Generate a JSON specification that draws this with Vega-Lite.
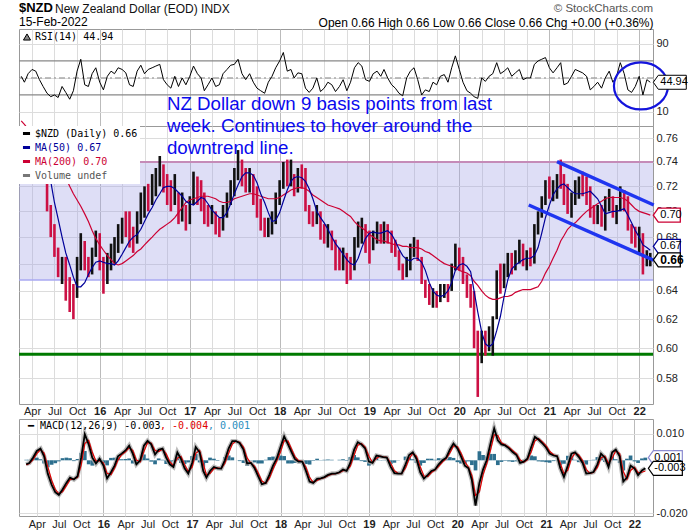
{
"$schema": "https://vega.github.io/schema/vega-lite/v6.json",
"background": "white",
"padding": {"left": 16, "top": 1, "right": 4, "bottom": 2},
"config": {
  "view": {"stroke": "#999"},
  "axis": {"labelFont": "Liberation Sans", "labelFontSize": 11, "labelColor": "#222", "ticks": false, "domain": false, "gridColor": "#dcdcdc"},
  "title": {"font": "Liberation Sans"}
},
"datasets": {
"px": [
{"d":"2015-02-16","hi":0.757,"lo":0.730,"up":1,"ma50":0.752,"ma200":0.775,"rsi":52,"macd":-0.0015,"sig":-0.0017,"hist":0.0002},
{"d":"2015-03-01","hi":0.760,"lo":0.722,"up":0,"ma50":0.748,"ma200":0.772,"rsi":45,"macd":-0.0010,"sig":-0.0012,"hist":0.0002},
{"d":"2015-03-16","hi":0.765,"lo":0.735,"up":1,"ma50":0.748,"ma200":0.768,"rsi":55,"macd":0.0010,"sig":0.0002,"hist":0.0008},
{"d":"2015-04-01","hi":0.768,"lo":0.745,"up":1,"ma50":0.750,"ma200":0.764,"rsi":60,"macd":0.0035,"sig":0.0025,"hist":0.0010},
{"d":"2015-04-16","hi":0.770,"lo":0.750,"up":0,"ma50":0.754,"ma200":0.761,"rsi":58,"macd":0.0044,"sig":0.0040,"hist":0.0004},
{"d":"2015-05-01","hi":0.765,"lo":0.740,"up":0,"ma50":0.756,"ma200":0.758,"rsi":48,"macd":0.0015,"sig":0.0027,"hist":-0.0012},
{"d":"2015-05-16","hi":0.745,"lo":0.725,"up":0,"ma50":0.752,"ma200":0.754,"rsi":40,"macd":-0.0050,"sig":-0.0024,"hist":-0.0026},
{"d":"2015-06-01","hi":0.730,"lo":0.700,"up":0,"ma50":0.738,"ma200":0.750,"rsi":32,"macd":-0.0092,"sig":-0.0075,"hist":-0.0017},
{"d":"2015-06-16","hi":0.705,"lo":0.680,"up":0,"ma50":0.724,"ma200":0.745,"rsi":28,"macd":-0.0120,"sig":-0.0109,"hist":-0.0011},
{"d":"2015-07-01","hi":0.690,"lo":0.665,"up":0,"ma50":0.707,"ma200":0.740,"rsi":30,"macd":-0.0130,"sig":-0.0126,"hist":-0.0004},
{"d":"2015-07-16","hi":0.672,"lo":0.650,"up":0,"ma50":0.694,"ma200":0.737,"rsi":27,"macd":-0.0110,"sig":-0.0118,"hist":0.0008},
{"d":"2015-08-01","hi":0.665,"lo":0.645,"up":1,"ma50":0.680,"ma200":0.734,"rsi":40,"macd":-0.0085,"sig":-0.0095,"hist":0.0010},
{"d":"2015-08-16","hi":0.665,"lo":0.633,"up":0,"ma50":0.668,"ma200":0.727,"rsi":33,"macd":-0.0065,"sig":-0.0073,"hist":0.0008},
{"d":"2015-09-01","hi":0.650,"lo":0.625,"up":0,"ma50":0.659,"ma200":0.720,"rsi":25,"macd":-0.0072,"sig":-0.0069,"hist":-0.0003},
{"d":"2015-09-16","hi":0.645,"lo":0.620,"up":0,"ma50":0.650,"ma200":0.714,"rsi":35,"macd":-0.0060,"sig":-0.0065,"hist":0.0005},
{"d":"2015-10-01","hi":0.665,"lo":0.635,"up":1,"ma50":0.643,"ma200":0.709,"rsi":58,"macd":0.0010,"sig":-0.0018,"hist":0.0028},
{"d":"2015-10-16","hi":0.683,"lo":0.655,"up":1,"ma50":0.643,"ma200":0.704,"rsi":72,"macd":0.0098,"sig":0.0063,"hist":0.0035},
{"d":"2015-11-01","hi":0.677,"lo":0.655,"up":0,"ma50":0.646,"ma200":0.698,"rsi":42,"macd":0.0060,"sig":0.0075,"hist":-0.0015},
{"d":"2015-11-16","hi":0.665,"lo":0.650,"up":0,"ma50":0.652,"ma200":0.692,"rsi":40,"macd":0.0010,"sig":0.0030,"hist":-0.0020},
{"d":"2015-12-01","hi":0.672,"lo":0.652,"up":1,"ma50":0.657,"ma200":0.685,"rsi":55,"macd":-0.0012,"sig":-0.0003,"hist":-0.0009},
{"d":"2015-12-16","hi":0.685,"lo":0.665,"up":1,"ma50":0.661,"ma200":0.679,"rsi":62,"macd":0.0006,"sig":-0.0001,"hist":0.0007},
{"d":"2016-01-01","hi":0.683,"lo":0.655,"up":0,"ma50":0.662,"ma200":0.674,"rsi":45,"macd":-0.0020,"sig":-0.0010,"hist":-0.0010},
{"d":"2016-01-16","hi":0.665,"lo":0.638,"up":0,"ma50":0.661,"ma200":0.670,"rsi":36,"macd":-0.0068,"sig":-0.0049,"hist":-0.0019},
{"d":"2016-02-01","hi":0.668,"lo":0.645,"up":1,"ma50":0.660,"ma200":0.666,"rsi":52,"macd":-0.0045,"sig":-0.0054,"hist":0.0009},
{"d":"2016-02-16","hi":0.675,"lo":0.655,"up":1,"ma50":0.660,"ma200":0.663,"rsi":58,"macd":-0.0020,"sig":-0.0030,"hist":0.0010},
{"d":"2016-03-01","hi":0.680,"lo":0.660,"up":1,"ma50":0.659,"ma200":0.660,"rsi":55,"macd":0.0015,"sig":0.0001,"hist":0.0014},
{"d":"2016-03-16","hi":0.690,"lo":0.668,"up":1,"ma50":0.662,"ma200":0.659,"rsi":62,"macd":0.0025,"sig":0.0021,"hist":0.0004},
{"d":"2016-04-01","hi":0.695,"lo":0.675,"up":1,"ma50":0.667,"ma200":0.660,"rsi":60,"macd":0.0037,"sig":0.0032,"hist":0.0005},
{"d":"2016-04-16","hi":0.700,"lo":0.680,"up":0,"ma50":0.672,"ma200":0.662,"rsi":56,"macd":0.0055,"sig":0.0048,"hist":0.0007},
{"d":"2016-05-01","hi":0.700,"lo":0.672,"up":0,"ma50":0.677,"ma200":0.664,"rsi":42,"macd":0.0025,"sig":0.0037,"hist":-0.0012},
{"d":"2016-05-16","hi":0.688,"lo":0.668,"up":0,"ma50":0.680,"ma200":0.666,"rsi":40,"macd":-0.0015,"sig":0.0001,"hist":-0.0016},
{"d":"2016-06-01","hi":0.700,"lo":0.675,"up":1,"ma50":0.682,"ma200":0.669,"rsi":58,"macd":0.0000,"sig":-0.0006,"hist":0.0006},
{"d":"2016-06-16","hi":0.715,"lo":0.690,"up":1,"ma50":0.686,"ma200":0.671,"rsi":65,"macd":0.0055,"sig":0.0033,"hist":0.0022},
{"d":"2016-07-01","hi":0.720,"lo":0.695,"up":1,"ma50":0.692,"ma200":0.674,"rsi":55,"macd":0.0073,"sig":0.0066,"hist":0.0007},
{"d":"2016-07-16","hi":0.722,"lo":0.700,"up":0,"ma50":0.698,"ma200":0.677,"rsi":60,"macd":0.0060,"sig":0.0065,"hist":-0.0005},
{"d":"2016-08-01","hi":0.730,"lo":0.705,"up":1,"ma50":0.703,"ma200":0.680,"rsi":62,"macd":0.0022,"sig":0.0037,"hist":-0.0015},
{"d":"2016-08-16","hi":0.735,"lo":0.712,"up":1,"ma50":0.709,"ma200":0.683,"rsi":64,"macd":0.0040,"sig":0.0033,"hist":0.0007},
{"d":"2016-09-01","hi":0.745,"lo":0.720,"up":1,"ma50":0.714,"ma200":0.686,"rsi":66,"macd":0.0044,"sig":0.0042,"hist":0.0002},
{"d":"2016-09-16","hi":0.738,"lo":0.715,"up":0,"ma50":0.719,"ma200":0.688,"rsi":48,"macd":0.0010,"sig":0.0024,"hist":-0.0014},
{"d":"2016-10-01","hi":0.730,"lo":0.705,"up":0,"ma50":0.720,"ma200":0.690,"rsi":42,"macd":-0.0015,"sig":-0.0005,"hist":-0.0010},
{"d":"2016-10-16","hi":0.725,"lo":0.700,"up":0,"ma50":0.720,"ma200":0.692,"rsi":38,"macd":-0.0025,"sig":-0.0021,"hist":-0.0004},
{"d":"2016-11-01","hi":0.730,"lo":0.705,"up":1,"ma50":0.718,"ma200":0.695,"rsi":52,"macd":0.0030,"sig":0.0008,"hist":0.0022},
{"d":"2016-11-16","hi":0.715,"lo":0.690,"up":0,"ma50":0.715,"ma200":0.699,"rsi":40,"macd":0.0005,"sig":0.0015,"hist":-0.0010},
{"d":"2016-12-01","hi":0.715,"lo":0.692,"up":1,"ma50":0.712,"ma200":0.703,"rsi":50,"macd":-0.0030,"sig":-0.0016,"hist":-0.0014},
{"d":"2016-12-16","hi":0.705,"lo":0.685,"up":0,"ma50":0.708,"ma200":0.707,"rsi":42,"macd":-0.0050,"sig":-0.0042,"hist":-0.0008},
{"d":"2017-01-01","hi":0.712,"lo":0.690,"up":1,"ma50":0.706,"ma200":0.709,"rsi":52,"macd":-0.0010,"sig":-0.0026,"hist":0.0016},
{"d":"2017-01-16","hi":0.732,"lo":0.705,"up":1,"ma50":0.705,"ma200":0.710,"rsi":64,"macd":0.0050,"sig":0.0026,"hist":0.0024},
{"d":"2017-02-01","hi":0.728,"lo":0.705,"up":0,"ma50":0.708,"ma200":0.711,"rsi":55,"macd":0.0030,"sig":0.0038,"hist":-0.0008},
{"d":"2017-02-16","hi":0.725,"lo":0.700,"up":0,"ma50":0.711,"ma200":0.712,"rsi":50,"macd":-0.0040,"sig":-0.0012,"hist":-0.0028},
{"d":"2017-03-01","hi":0.715,"lo":0.690,"up":0,"ma50":0.710,"ma200":0.712,"rsi":35,"macd":-0.0065,"sig":-0.0055,"hist":-0.0010},
{"d":"2017-03-16","hi":0.705,"lo":0.688,"up":0,"ma50":0.706,"ma200":0.712,"rsi":42,"macd":-0.0040,"sig":-0.0050,"hist":0.0010},
{"d":"2017-04-01","hi":0.705,"lo":0.690,"up":1,"ma50":0.701,"ma200":0.711,"rsi":50,"macd":-0.0025,"sig":-0.0031,"hist":0.0006},
{"d":"2017-04-16","hi":0.700,"lo":0.682,"up":0,"ma50":0.698,"ma200":0.710,"rsi":40,"macd":-0.0030,"sig":-0.0028,"hist":-0.0002},
{"d":"2017-05-01","hi":0.695,"lo":0.680,"up":0,"ma50":0.695,"ma200":0.708,"rsi":42,"macd":-0.0031,"sig":-0.0031,"hist":0.0000},
{"d":"2017-05-16","hi":0.705,"lo":0.685,"up":1,"ma50":0.695,"ma200":0.707,"rsi":55,"macd":0.0000,"sig":-0.0012,"hist":0.0012},
{"d":"2017-06-01","hi":0.715,"lo":0.695,"up":1,"ma50":0.699,"ma200":0.707,"rsi":60,"macd":0.0045,"sig":0.0027,"hist":0.0018},
{"d":"2017-06-16","hi":0.725,"lo":0.705,"up":1,"ma50":0.706,"ma200":0.708,"rsi":65,"macd":0.0072,"sig":0.0061,"hist":0.0011},
{"d":"2017-07-01","hi":0.735,"lo":0.712,"up":1,"ma50":0.714,"ma200":0.710,"rsi":66,"macd":0.0072,"sig":0.0072,"hist":0.0000},
{"d":"2017-07-16","hi":0.750,"lo":0.725,"up":1,"ma50":0.721,"ma200":0.711,"rsi":72,"macd":0.0065,"sig":0.0068,"hist":-0.0003},
{"d":"2017-08-01","hi":0.742,"lo":0.720,"up":0,"ma50":0.728,"ma200":0.712,"rsi":55,"macd":0.0040,"sig":0.0050,"hist":-0.0010},
{"d":"2017-08-16","hi":0.735,"lo":0.715,"up":0,"ma50":0.731,"ma200":0.713,"rsi":48,"macd":-0.0012,"sig":0.0009,"hist":-0.0021},
{"d":"2017-09-01","hi":0.735,"lo":0.715,"up":1,"ma50":0.731,"ma200":0.714,"rsi":55,"macd":-0.0010,"sig":-0.0011,"hist":0.0001},
{"d":"2017-09-16","hi":0.730,"lo":0.705,"up":0,"ma50":0.729,"ma200":0.714,"rsi":45,"macd":-0.0030,"sig":-0.0022,"hist":-0.0008},
{"d":"2017-10-01","hi":0.720,"lo":0.695,"up":0,"ma50":0.723,"ma200":0.713,"rsi":38,"macd":-0.0060,"sig":-0.0048,"hist":-0.0012},
{"d":"2017-10-16","hi":0.710,"lo":0.685,"up":0,"ma50":0.714,"ma200":0.712,"rsi":35,"macd":-0.0090,"sig":-0.0078,"hist":-0.0012},
{"d":"2017-11-01","hi":0.695,"lo":0.680,"up":0,"ma50":0.707,"ma200":0.711,"rsi":32,"macd":-0.0085,"sig":-0.0087,"hist":0.0002},
{"d":"2017-11-16","hi":0.695,"lo":0.680,"up":1,"ma50":0.699,"ma200":0.710,"rsi":45,"macd":-0.0055,"sig":-0.0067,"hist":0.0012},
{"d":"2017-12-01","hi":0.700,"lo":0.682,"up":1,"ma50":0.692,"ma200":0.710,"rsi":52,"macd":-0.0020,"sig":-0.0034,"hist":0.0014},
{"d":"2017-12-16","hi":0.715,"lo":0.690,"up":1,"ma50":0.693,"ma200":0.710,"rsi":62,"macd":0.0006,"sig":-0.0004,"hist":0.0010},
{"d":"2018-01-01","hi":0.725,"lo":0.705,"up":1,"ma50":0.699,"ma200":0.711,"rsi":70,"macd":0.0050,"sig":0.0032,"hist":0.0018},
{"d":"2018-01-16","hi":0.740,"lo":0.718,"up":1,"ma50":0.708,"ma200":0.713,"rsi":80,"macd":0.0090,"sig":0.0074,"hist":0.0016},
{"d":"2018-02-01","hi":0.742,"lo":0.720,"up":0,"ma50":0.717,"ma200":0.715,"rsi":58,"macd":0.0060,"sig":0.0072,"hist":-0.0012},
{"d":"2018-02-16","hi":0.742,"lo":0.720,"up":1,"ma50":0.724,"ma200":0.717,"rsi":60,"macd":0.0030,"sig":0.0042,"hist":-0.0012},
{"d":"2018-03-01","hi":0.730,"lo":0.712,"up":0,"ma50":0.727,"ma200":0.718,"rsi":50,"macd":0.0005,"sig":0.0015,"hist":-0.0010},
{"d":"2018-03-16","hi":0.735,"lo":0.715,"up":1,"ma50":0.728,"ma200":0.719,"rsi":56,"macd":-0.0005,"sig":-0.0001,"hist":-0.0004},
{"d":"2018-04-01","hi":0.738,"lo":0.718,"up":0,"ma50":0.727,"ma200":0.719,"rsi":55,"macd":-0.0005,"sig":-0.0005,"hist":0.0000},
{"d":"2018-04-16","hi":0.735,"lo":0.700,"up":0,"ma50":0.724,"ma200":0.718,"rsi":38,"macd":-0.0040,"sig":-0.0026,"hist":-0.0014},
{"d":"2018-05-01","hi":0.705,"lo":0.690,"up":0,"ma50":0.718,"ma200":0.716,"rsi":33,"macd":-0.0080,"sig":-0.0064,"hist":-0.0016},
{"d":"2018-05-16","hi":0.700,"lo":0.688,"up":0,"ma50":0.710,"ma200":0.713,"rsi":38,"macd":-0.0085,"sig":-0.0083,"hist":-0.0002},
{"d":"2018-06-01","hi":0.705,"lo":0.690,"up":1,"ma50":0.700,"ma200":0.711,"rsi":50,"macd":-0.0070,"sig":-0.0076,"hist":0.0006},
{"d":"2018-06-16","hi":0.700,"lo":0.678,"up":0,"ma50":0.695,"ma200":0.709,"rsi":34,"macd":-0.0068,"sig":-0.0069,"hist":0.0001},
{"d":"2018-07-01","hi":0.690,"lo":0.675,"up":0,"ma50":0.691,"ma200":0.707,"rsi":38,"macd":-0.0063,"sig":-0.0065,"hist":0.0002},
{"d":"2018-07-16","hi":0.690,"lo":0.672,"up":1,"ma50":0.686,"ma200":0.705,"rsi":45,"macd":-0.0055,"sig":-0.0058,"hist":0.0003},
{"d":"2018-08-01","hi":0.685,"lo":0.670,"up":0,"ma50":0.680,"ma200":0.704,"rsi":42,"macd":-0.0050,"sig":-0.0052,"hist":0.0002},
{"d":"2018-08-16","hi":0.678,"lo":0.655,"up":0,"ma50":0.675,"ma200":0.703,"rsi":34,"macd":-0.0050,"sig":-0.0050,"hist":0.0000},
{"d":"2018-09-01","hi":0.672,"lo":0.655,"up":0,"ma50":0.671,"ma200":0.702,"rsi":40,"macd":-0.0045,"sig":-0.0047,"hist":0.0002},
{"d":"2018-09-16","hi":0.672,"lo":0.655,"up":1,"ma50":0.667,"ma200":0.700,"rsi":48,"macd":-0.0035,"sig":-0.0039,"hist":0.0004},
{"d":"2018-10-01","hi":0.668,"lo":0.645,"up":0,"ma50":0.663,"ma200":0.698,"rsi":35,"macd":-0.0040,"sig":-0.0038,"hist":-0.0002},
{"d":"2018-10-16","hi":0.665,"lo":0.648,"up":0,"ma50":0.660,"ma200":0.696,"rsi":45,"macd":-0.0010,"sig":-0.0022,"hist":0.0012},
{"d":"2018-11-01","hi":0.680,"lo":0.655,"up":1,"ma50":0.659,"ma200":0.692,"rsi":62,"macd":0.0040,"sig":0.0020,"hist":0.0020},
{"d":"2018-11-16","hi":0.692,"lo":0.672,"up":1,"ma50":0.664,"ma200":0.689,"rsi":68,"macd":0.0068,"sig":0.0057,"hist":0.0011},
{"d":"2018-12-01","hi":0.695,"lo":0.675,"up":1,"ma50":0.672,"ma200":0.687,"rsi":64,"macd":0.0060,"sig":0.0063,"hist":-0.0003},
{"d":"2018-12-16","hi":0.690,"lo":0.668,"up":0,"ma50":0.679,"ma200":0.685,"rsi":48,"macd":0.0045,"sig":0.0051,"hist":-0.0006},
{"d":"2019-01-01","hi":0.685,"lo":0.660,"up":0,"ma50":0.683,"ma200":0.682,"rsi":46,"macd":-0.0005,"sig":0.0015,"hist":-0.0020},
{"d":"2019-01-16","hi":0.685,"lo":0.670,"up":1,"ma50":0.684,"ma200":0.680,"rsi":55,"macd":-0.0010,"sig":-0.0008,"hist":-0.0002},
{"d":"2019-02-01","hi":0.692,"lo":0.675,"up":1,"ma50":0.683,"ma200":0.678,"rsi":58,"macd":0.0018,"sig":0.0007,"hist":0.0011},
{"d":"2019-02-16","hi":0.690,"lo":0.675,"up":0,"ma50":0.683,"ma200":0.677,"rsi":52,"macd":0.0015,"sig":0.0016,"hist":-0.0001},
{"d":"2019-03-01","hi":0.692,"lo":0.675,"up":1,"ma50":0.684,"ma200":0.677,"rsi":60,"macd":0.0012,"sig":0.0013,"hist":-0.0001},
{"d":"2019-03-16","hi":0.690,"lo":0.675,"up":0,"ma50":0.685,"ma200":0.676,"rsi":50,"macd":0.0010,"sig":0.0011,"hist":-0.0001},
{"d":"2019-04-01","hi":0.685,"lo":0.668,"up":0,"ma50":0.682,"ma200":0.675,"rsi":42,"macd":-0.0025,"sig":-0.0011,"hist":-0.0014},
{"d":"2019-04-16","hi":0.678,"lo":0.665,"up":0,"ma50":0.677,"ma200":0.674,"rsi":38,"macd":-0.0048,"sig":-0.0039,"hist":-0.0009},
{"d":"2019-05-01","hi":0.670,"lo":0.655,"up":0,"ma50":0.671,"ma200":0.674,"rsi":32,"macd":-0.0050,"sig":-0.0049,"hist":-0.0001},
{"d":"2019-05-16","hi":0.660,"lo":0.648,"up":0,"ma50":0.666,"ma200":0.673,"rsi":29,"macd":-0.0050,"sig":-0.0050,"hist":0.0000},
{"d":"2019-06-01","hi":0.665,"lo":0.650,"up":1,"ma50":0.663,"ma200":0.673,"rsi":50,"macd":-0.0015,"sig":-0.0029,"hist":0.0014},
{"d":"2019-06-16","hi":0.675,"lo":0.655,"up":1,"ma50":0.662,"ma200":0.672,"rsi":58,"macd":0.0020,"sig":0.0006,"hist":0.0014},
{"d":"2019-07-01","hi":0.680,"lo":0.665,"up":1,"ma50":0.664,"ma200":0.672,"rsi":62,"macd":0.0030,"sig":0.0026,"hist":0.0004},
{"d":"2019-07-16","hi":0.678,"lo":0.662,"up":0,"ma50":0.664,"ma200":0.672,"rsi":48,"macd":0.0006,"sig":0.0016,"hist":-0.0010},
{"d":"2019-08-01","hi":0.665,"lo":0.645,"up":0,"ma50":0.661,"ma200":0.671,"rsi":30,"macd":-0.0045,"sig":-0.0025,"hist":-0.0020},
{"d":"2019-08-16","hi":0.648,"lo":0.635,"up":0,"ma50":0.655,"ma200":0.669,"rsi":36,"macd":-0.0069,"sig":-0.0059,"hist":-0.0010},
{"d":"2019-09-01","hi":0.645,"lo":0.630,"up":0,"ma50":0.646,"ma200":0.668,"rsi":34,"macd":-0.0055,"sig":-0.0061,"hist":0.0006},
{"d":"2019-09-16","hi":0.642,"lo":0.628,"up":1,"ma50":0.640,"ma200":0.666,"rsi":45,"macd":-0.0040,"sig":-0.0046,"hist":0.0006},
{"d":"2019-10-01","hi":0.640,"lo":0.628,"up":0,"ma50":0.637,"ma200":0.664,"rsi":42,"macd":-0.0035,"sig":-0.0037,"hist":0.0002},
{"d":"2019-10-16","hi":0.645,"lo":0.632,"up":1,"ma50":0.636,"ma200":0.662,"rsi":52,"macd":-0.0015,"sig":-0.0023,"hist":0.0008},
{"d":"2019-11-01","hi":0.645,"lo":0.635,"up":1,"ma50":0.637,"ma200":0.660,"rsi":54,"macd":0.0000,"sig":-0.0006,"hist":0.0006},
{"d":"2019-11-16","hi":0.645,"lo":0.632,"up":0,"ma50":0.640,"ma200":0.659,"rsi":45,"macd":0.0010,"sig":0.0006,"hist":0.0004},
{"d":"2019-12-01","hi":0.660,"lo":0.640,"up":1,"ma50":0.646,"ma200":0.658,"rsi":62,"macd":0.0040,"sig":0.0028,"hist":0.0012},
{"d":"2019-12-16","hi":0.675,"lo":0.655,"up":1,"ma50":0.655,"ma200":0.657,"rsi":76,"macd":0.0063,"sig":0.0054,"hist":0.0009},
{"d":"2020-01-01","hi":0.672,"lo":0.655,"up":0,"ma50":0.659,"ma200":0.655,"rsi":60,"macd":0.0045,"sig":0.0052,"hist":-0.0007},
{"d":"2020-01-16","hi":0.665,"lo":0.645,"up":0,"ma50":0.660,"ma200":0.654,"rsi":45,"macd":0.0015,"sig":0.0027,"hist":-0.0012},
{"d":"2020-02-01","hi":0.652,"lo":0.635,"up":0,"ma50":0.658,"ma200":0.653,"rsi":35,"macd":-0.0020,"sig":-0.0006,"hist":-0.0014},
{"d":"2020-02-16","hi":0.645,"lo":0.628,"up":0,"ma50":0.654,"ma200":0.651,"rsi":32,"macd":-0.0030,"sig":-0.0026,"hist":-0.0004},
{"d":"2020-03-01","hi":0.640,"lo":0.600,"up":0,"ma50":0.640,"ma200":0.647,"rsi":28,"macd":-0.0075,"sig":-0.0057,"hist":-0.0018},
{"d":"2020-03-16","hi":0.612,"lo":0.568,"up":0,"ma50":0.625,"ma200":0.644,"rsi":26,"macd":-0.0170,"sig":-0.0132,"hist":-0.0038},
{"d":"2020-04-01","hi":0.612,"lo":0.590,"up":1,"ma50":0.611,"ma200":0.640,"rsi":50,"macd":-0.0085,"sig":-0.0119,"hist":0.0034},
{"d":"2020-04-16","hi":0.612,"lo":0.595,"up":0,"ma50":0.603,"ma200":0.637,"rsi":46,"macd":-0.0035,"sig":-0.0055,"hist":0.0020},
{"d":"2020-05-01","hi":0.615,"lo":0.598,"up":1,"ma50":0.601,"ma200":0.635,"rsi":52,"macd":0.0000,"sig":-0.0014,"hist":0.0014},
{"d":"2020-05-16","hi":0.622,"lo":0.595,"up":1,"ma50":0.603,"ma200":0.634,"rsi":55,"macd":0.0060,"sig":0.0036,"hist":0.0024},
{"d":"2020-06-01","hi":0.655,"lo":0.620,"up":1,"ma50":0.612,"ma200":0.634,"rsi":68,"macd":0.0120,"sig":0.0096,"hist":0.0024},
{"d":"2020-06-16","hi":0.660,"lo":0.638,"up":0,"ma50":0.622,"ma200":0.635,"rsi":55,"macd":0.0075,"sig":0.0093,"hist":-0.0018},
{"d":"2020-07-01","hi":0.660,"lo":0.642,"up":1,"ma50":0.636,"ma200":0.636,"rsi":58,"macd":0.0060,"sig":0.0066,"hist":-0.0006},
{"d":"2020-07-16","hi":0.668,"lo":0.650,"up":1,"ma50":0.648,"ma200":0.636,"rsi":62,"macd":0.0056,"sig":0.0058,"hist":-0.0002},
{"d":"2020-08-01","hi":0.668,"lo":0.652,"up":0,"ma50":0.656,"ma200":0.637,"rsi":52,"macd":0.0045,"sig":0.0049,"hist":-0.0004},
{"d":"2020-08-16","hi":0.670,"lo":0.655,"up":1,"ma50":0.659,"ma200":0.639,"rsi":56,"macd":0.0031,"sig":0.0037,"hist":-0.0006},
{"d":"2020-09-01","hi":0.678,"lo":0.660,"up":1,"ma50":0.661,"ma200":0.640,"rsi":60,"macd":0.0020,"sig":0.0024,"hist":-0.0004},
{"d":"2020-09-16","hi":0.675,"lo":0.658,"up":0,"ma50":0.663,"ma200":0.641,"rsi":48,"macd":-0.0010,"sig":0.0002,"hist":-0.0012},
{"d":"2020-10-01","hi":0.670,"lo":0.655,"up":1,"ma50":0.664,"ma200":0.641,"rsi":50,"macd":-0.0005,"sig":-0.0007,"hist":0.0002},
{"d":"2020-10-16","hi":0.672,"lo":0.658,"up":0,"ma50":0.664,"ma200":0.641,"rsi":50,"macd":0.0006,"sig":0.0002,"hist":0.0004},
{"d":"2020-11-01","hi":0.690,"lo":0.660,"up":1,"ma50":0.666,"ma200":0.642,"rsi":66,"macd":0.0050,"sig":0.0032,"hist":0.0018},
{"d":"2020-11-16","hi":0.700,"lo":0.682,"up":1,"ma50":0.672,"ma200":0.643,"rsi":70,"macd":0.0088,"sig":0.0073,"hist":0.0015},
{"d":"2020-12-01","hi":0.712,"lo":0.695,"up":1,"ma50":0.683,"ma200":0.647,"rsi":72,"macd":0.0078,"sig":0.0082,"hist":-0.0004},
{"d":"2020-12-16","hi":0.725,"lo":0.705,"up":1,"ma50":0.695,"ma200":0.653,"rsi":74,"macd":0.0065,"sig":0.0070,"hist":-0.0005},
{"d":"2021-01-01","hi":0.728,"lo":0.710,"up":0,"ma50":0.705,"ma200":0.658,"rsi":62,"macd":0.0048,"sig":0.0055,"hist":-0.0007},
{"d":"2021-01-16","hi":0.725,"lo":0.708,"up":1,"ma50":0.713,"ma200":0.664,"rsi":56,"macd":0.0025,"sig":0.0034,"hist":-0.0009},
{"d":"2021-02-01","hi":0.730,"lo":0.710,"up":1,"ma50":0.718,"ma200":0.670,"rsi":62,"macd":0.0018,"sig":0.0021,"hist":-0.0003},
{"d":"2021-02-16","hi":0.742,"lo":0.718,"up":0,"ma50":0.721,"ma200":0.677,"rsi":68,"macd":0.0015,"sig":0.0016,"hist":-0.0001},
{"d":"2021-03-01","hi":0.730,"lo":0.705,"up":0,"ma50":0.722,"ma200":0.681,"rsi":42,"macd":-0.0030,"sig":-0.0012,"hist":-0.0018},
{"d":"2021-03-16","hi":0.722,"lo":0.698,"up":0,"ma50":0.719,"ma200":0.686,"rsi":44,"macd":-0.0063,"sig":-0.0050,"hist":-0.0013},
{"d":"2021-04-01","hi":0.715,"lo":0.695,"up":1,"ma50":0.716,"ma200":0.689,"rsi":52,"macd":-0.0020,"sig":-0.0037,"hist":0.0017},
{"d":"2021-04-16","hi":0.725,"lo":0.705,"up":1,"ma50":0.714,"ma200":0.691,"rsi":60,"macd":0.0025,"sig":0.0007,"hist":0.0018},
{"d":"2021-05-01","hi":0.728,"lo":0.710,"up":1,"ma50":0.714,"ma200":0.694,"rsi":58,"macd":0.0030,"sig":0.0028,"hist":0.0002},
{"d":"2021-05-16","hi":0.732,"lo":0.712,"up":0,"ma50":0.714,"ma200":0.697,"rsi":56,"macd":0.0013,"sig":0.0020,"hist":-0.0007},
{"d":"2021-06-01","hi":0.728,"lo":0.705,"up":0,"ma50":0.715,"ma200":0.700,"rsi":52,"macd":-0.0010,"sig":-0.0001,"hist":-0.0009},
{"d":"2021-06-16","hi":0.720,"lo":0.695,"up":0,"ma50":0.716,"ma200":0.702,"rsi":36,"macd":-0.0050,"sig":-0.0034,"hist":-0.0016},
{"d":"2021-07-01","hi":0.705,"lo":0.690,"up":0,"ma50":0.713,"ma200":0.704,"rsi":40,"macd":-0.0048,"sig":-0.0049,"hist":0.0001},
{"d":"2021-07-16","hi":0.705,"lo":0.690,"up":1,"ma50":0.710,"ma200":0.706,"rsi":45,"macd":-0.0044,"sig":-0.0046,"hist":0.0002},
{"d":"2021-08-01","hi":0.705,"lo":0.688,"up":0,"ma50":0.704,"ma200":0.708,"rsi":38,"macd":-0.0015,"sig":-0.0027,"hist":0.0012},
{"d":"2021-08-16","hi":0.712,"lo":0.685,"up":1,"ma50":0.698,"ma200":0.710,"rsi":50,"macd":0.0025,"sig":0.0009,"hist":0.0016},
{"d":"2021-09-01","hi":0.718,"lo":0.700,"up":1,"ma50":0.699,"ma200":0.711,"rsi":58,"macd":0.0010,"sig":0.0016,"hist":-0.0006},
{"d":"2021-09-16","hi":0.712,"lo":0.695,"up":0,"ma50":0.700,"ma200":0.711,"rsi":45,"macd":-0.0025,"sig":-0.0011,"hist":-0.0014},
{"d":"2021-10-01","hi":0.705,"lo":0.690,"up":1,"ma50":0.700,"ma200":0.711,"rsi":52,"macd":0.0030,"sig":0.0008,"hist":0.0022},
{"d":"2021-10-16","hi":0.720,"lo":0.700,"up":1,"ma50":0.701,"ma200":0.711,"rsi":68,"macd":0.0040,"sig":0.0036,"hist":0.0004},
{"d":"2021-11-01","hi":0.717,"lo":0.700,"up":0,"ma50":0.702,"ma200":0.710,"rsi":55,"macd":0.0015,"sig":0.0025,"hist":-0.0010},
{"d":"2021-11-16","hi":0.712,"lo":0.685,"up":0,"ma50":0.697,"ma200":0.708,"rsi":36,"macd":-0.0080,"sig":-0.0042,"hist":-0.0038},
{"d":"2021-12-01","hi":0.690,"lo":0.675,"up":0,"ma50":0.691,"ma200":0.705,"rsi":33,"macd":-0.0065,"sig":-0.0071,"hist":0.0006},
{"d":"2021-12-16","hi":0.688,"lo":0.672,"up":0,"ma50":0.685,"ma200":0.702,"rsi":40,"macd":-0.0020,"sig":-0.0038,"hist":0.0018},
{"d":"2022-01-01","hi":0.688,"lo":0.668,"up":1,"ma50":0.680,"ma200":0.700,"rsi":52,"macd":-0.0030,"sig":-0.0026,"hist":-0.0004},
{"d":"2022-01-16","hi":0.683,"lo":0.652,"up":0,"ma50":0.674,"ma200":0.699,"rsi":30,"macd":-0.0056,"sig":-0.0046,"hist":-0.0010},
{"d":"2022-02-01","hi":0.670,"lo":0.658,"up":1,"ma50":0.672,"ma200":0.698,"rsi":48,"macd":-0.0038,"sig":-0.0045,"hist":0.0007},
{"d":"2022-02-15","hi":0.668,"lo":0.658,"up":1,"ma50":0.670,"ma200":0.697,"rsi":44.94,"macd":-0.0030,"sig":-0.0040,"hist":0.0010}
],
"trend": [
{"line":"upper","d":"2021-02-01","v":0.7403},
{"line":"upper","d":"2022-03-01","v":0.705},
{"line":"lower","d":"2020-10-09","v":0.705},
{"line":"lower","d":"2022-03-01","v":0.6625}
]
},
"title": {"text": "© StockCharts.com", "anchor": "end", "frame": "group", "fontSize": 11.5, "fontWeight": "normal", "color": "#555", "offset": -13},
"vconcat": [
{
"title": {"text": "New Zealand Dollar (EOD)  INDX", "anchor": "start", "frame": "group", "dx": 36, "fontSize": 12, "fontWeight": "normal", "color": "#111", "offset": -14},
"vconcat": [
{
"width": 634, "height": 97,
"title": {"text": "$NZD", "subtitle": "15-Feb-2022", "anchor": "start", "frame": "group", "fontSize": 13, "fontWeight": "bold", "color": "#000", "subtitleFont": "Liberation Sans", "subtitleFontSize": 12, "subtitleColor": "#000", "subtitlePadding": 2, "offset": -12},
"layer": [
{"data": {"values": [{"v": 70}, {"v": 30}]}, "mark": {"type": "rule", "stroke": "#888", "strokeWidth": 1.2}, "encoding": {"y": {"field": "v", "type": "quantitative"}}},
{"data": {"values": [{"v": 50}]}, "mark": {"type": "rule", "stroke": "#888", "strokeWidth": 1, "strokeDash": [6, 3, 2, 3]}, "encoding": {"y": {"field": "v", "type": "quantitative"}}},
{"data": {"name": "px"}, "mark": {"type": "line", "strokeWidth": 1},
 "encoding": {
  "x": {"field": "d", "type": "temporal", "scale": {"domain": [{"year": 2015, "month": 2, "date": 7}, {"year": 2022, "month": 2, "date": 26}]},
        "axis": {"orient": "top", "labels": false, "grid": true, "tickCount": {"interval": "month", "step": 3},
                 "gridColor": {"condition": {"test": "month(datum.value) == 0", "value": "#bbb"}, "value": "#dcdcdc"},
                 "title": "Open 0.66  High 0.66  Low 0.66  Close 0.66  Chg +0.00 (+0.36%)", "titleAnchor": "end", "titleFont": "Liberation Sans", "titleFontSize": 12, "titleFontWeight": "normal", "titleColor": "#000", "titlePadding": 0}},
  "y": {"field": "rsi", "type": "quantitative", "scale": {"domain": [-6.5, 107.6], "nice": false, "zero": false},
        "axis": {"orient": "right", "values": [10, 30, 50, 70, 90], "labelExpr": "datum.value == 50 ? '' : datum.label", "grid": true, "labelPadding": 3, "title": null}},
  "color": {"datum": "RSI(14) 44.94", "type": "nominal", "scale": {"domain": ["RSI(14) 44.94"], "range": ["#000"]},
            "legend": {"orient": "top-left", "offset": 2, "title": null, "padding": 1, "labelFont": "DejaVu Sans Mono", "labelFontSize": 10, "labelColor": "#000", "symbolType": "triangle-up", "symbolFillColor": "#888", "symbolStrokeColor": "#333", "symbolSize": 50, "symbolStrokeWidth": 1, "labelOffset": 3}}
 }},
{"data": {"values": [{"note": "circle"}]}, "mark": {"type": "point", "shape": "M -27 0 A 27 23.5 0 1 1 27 0 A 27 23.5 0 1 1 -27 0 Z", "size": 4, "filled": false, "stroke": "#1414dc", "strokeWidth": 2.2, "opacity": 1, "clip": false},
 "encoding": {"x": {"datum": {"year": 2022, "month": 1, "date": 8}, "type": "temporal"}, "y": {"datum": 40.6, "type": "quantitative"}}},
{"data": {"values": [{"t": "44.94", "v": 44.94}]}, "mark": {"type": "point", "shape": "M 3 0 L 8 -7 L 36 -7 L 36 7 L 8 7 Z", "size": 4, "filled": true, "fill": "white", "stroke": "#000", "strokeWidth": 1, "opacity": 1, "clip": false},
 "encoding": {"x": {"datum": {"year": 2022, "month": 2, "date": 15}, "type": "temporal"}, "y": {"field": "v", "type": "quantitative"}}},
{"data": {"values": [{"t": "44.94", "v": 44.94}]}, "mark": {"type": "text", "align": "left", "baseline": "middle", "dx": 10, "fontSize": 11, "font": "Liberation Sans", "fill": "#000", "clip": false},
 "encoding": {"x": {"datum": {"year": 2022, "month": 2, "date": 15}, "type": "temporal"}, "y": {"field": "v", "type": "quantitative"}, "text": {"field": "t"}}}
]
},
{
"width": 634, "height": 278,
"layer": [
{"data": {"values": [{"top": 0.74, "bottom": 0.648}]}, "mark": {"type": "rect", "fill": "#a3a3e6", "fillOpacity": 0.36},
 "encoding": {
  "y": {"field": "top", "type": "quantitative", "scale": {"type": "log", "domain": [0.5635, 0.7706], "nice": false, "zero": false},
        "axis": {"orient": "right", "values": [0.58, 0.6, 0.62, 0.64, 0.66, 0.68, 0.7, 0.72, 0.74, 0.76], "labelExpr": "datum.value == 0.66 ? '' : format(datum.value, '.2f')", "grid": true, "labelPadding": 3, "title": null}},
  "y2": {"field": "bottom"}
 }},
{"data": {"values": [{"top": 0.74}]}, "mark": {"type": "rule", "stroke": "#c58bb8", "strokeWidth": 2}, "encoding": {"y": {"field": "top", "type": "quantitative"}}},
{"data": {"values": [{"bottom": 0.648}]}, "mark": {"type": "rule", "stroke": "#a9a9f2", "strokeWidth": 1.5}, "encoding": {"y": {"field": "bottom", "type": "quantitative"}}},
{"data": {"values": [{"support": 0.596}]}, "mark": {"type": "rule", "stroke": "#007a00", "strokeWidth": 3}, "encoding": {"y": {"field": "support", "type": "quantitative"}}},
{"data": {"name": "px"}, "mark": {"type": "rule", "strokeWidth": 2.6},
 "encoding": {
  "x": {"field": "d", "type": "temporal", "scale": {"domain": [{"year": 2015, "month": 2, "date": 7}, {"year": 2022, "month": 2, "date": 26}]},
        "axis": {"orient": "bottom", "grid": true, "tickCount": {"interval": "month", "step": 3},
                 "gridColor": {"condition": {"test": "month(datum.value) == 0", "value": "#bbb"}, "value": "#dcdcdc"},
                 "labelExpr": "month(datum.value) == 0 ? timeFormat(datum.value, '%y') : timeFormat(datum.value, '%b')",
                 "labelFontWeight": {"condition": {"test": "month(datum.value) == 0", "value": "bold"}, "value": "normal"},
                 "labelPadding": 1, "labelFlush": false, "labelOverlap": false, "labelBound": false, "labelBaseline": "top", "title": null}},
  "y": {"field": "lo", "type": "quantitative"},
  "y2": {"field": "hi"},
  "color": {"condition": {"test": "datum.up == 1", "value": "#111111"}, "value": "#cc1044"}
 }},
{"data": {"name": "px"}, "mark": {"type": "line", "strokeWidth": 1.2},
 "encoding": {
  "x": {"field": "d", "type": "temporal"},
  "y": {"field": "ma200", "type": "quantitative"},
  "color": {"datum": "MA(200) 0.70", "type": "nominal",
            "scale": {"domain": ["$NZD (Daily) 0.66", "MA(50) 0.67", "MA(200) 0.70", "Volume undef"], "range": ["#000000", "#000099", "#cc0033", "#777777"]},
            "legend": {"orient": "top-left", "offset": 0, "title": null, "padding": 2, "fillColor": "white", "labelFont": "DejaVu Sans Mono", "labelFontSize": 10, "rowPadding": 1, "labelOffset": 3, "symbolType": "stroke", "symbolStrokeWidth": 3, "symbolSize": 50, "labelLimit": 200,
                       "labelColor": {"expr": "datum.label == 'MA(50) 0.67' ? '#000099' : datum.label == 'MA(200) 0.70' ? '#cc0033' : datum.label == 'Volume undef' ? '#555555' : '#000000'"}}}
 }},
{"data": {"name": "px"}, "mark": {"type": "line", "strokeWidth": 1.2},
 "encoding": {
  "x": {"field": "d", "type": "temporal"},
  "y": {"field": "ma50", "type": "quantitative"},
  "color": {"datum": "MA(50) 0.67", "type": "nominal"}
 }},
{"data": {"name": "trend"}, "mark": {"type": "line", "stroke": "#1f35f0", "strokeWidth": 3.5, "clip": false},
 "encoding": {"x": {"field": "d", "type": "temporal"}, "y": {"field": "v", "type": "quantitative"}, "detail": {"field": "line"}}},
{"data": {"values": [{"note": "NZ Dollar down 9 basis points from last\nweek. Continues to hover around the\ndowntrend line."}]},
 "mark": {"type": "text", "align": "left", "baseline": "alphabetic", "lineBreak": "\n", "lineHeight": 22, "fontSize": 18.7, "font": "Liberation Sans", "fill": "#0a0aee", "clip": false},
 "encoding": {"x": {"datum": {"year": 2016, "month": 9, "date": 30}, "type": "temporal"}, "y": {"datum": 0.7843, "type": "quantitative"}, "text": {"field": "note"}}},
{"data": {"values": [{"k": "ma200", "v": 0.697}, {"k": "ma50", "v": 0.673}, {"k": "close", "v": 0.6628}]},
 "mark": {"type": "point", "shape": "M 3 0 L 8 -7 L 30 -7 L 30 7 L 8 7 Z", "size": 4, "filled": true, "fill": "white", "strokeWidth": 1.3, "opacity": 1, "clip": false},
 "encoding": {"x": {"datum": {"year": 2022, "month": 2, "date": 15}, "type": "temporal"}, "y": {"field": "v", "type": "quantitative"},
   "stroke": {"condition": [{"test": "datum.k == 'ma200'", "value": "#cc0033"}, {"test": "datum.k == 'ma50'", "value": "#000099"}], "value": "#000"}}},
{"data": {"values": [{"k": "ma200", "t": "0.70", "v": 0.697}, {"k": "ma50", "t": "0.67", "v": 0.673}]},
 "mark": {"type": "text", "align": "left", "baseline": "middle", "dx": 10, "fontSize": 11, "font": "Liberation Sans", "fill": "#000", "clip": false},
 "encoding": {"x": {"datum": {"year": 2022, "month": 2, "date": 15}, "type": "temporal"}, "y": {"field": "v", "type": "quantitative"}, "text": {"field": "t"}}},
{"data": {"values": [{"k": "close", "t": "0.66", "v": 0.6628}]},
 "mark": {"type": "text", "align": "left", "baseline": "middle", "dx": 10, "fontSize": 12, "fontWeight": "bold", "font": "Liberation Sans", "fill": "#000", "clip": false},
 "encoding": {"x": {"datum": {"year": 2022, "month": 2, "date": 15}, "type": "temporal"}, "y": {"field": "v", "type": "quantitative"}, "text": {"field": "t"}}}
]
}
],
"spacing": 0,
"bounds": "flush",
"resolve": {"scale": {"color": "independent"}, "legend": {"color": "independent"}}
},
{
"width": 634, "height": 97,
"layer": [
{"data": {"name": "px"}, "mark": {"type": "bar", "width": 3.7, "color": "#2d6f8e"},
 "encoding": {
  "x": {"field": "d", "type": "temporal", "scale": {"domain": [{"year": 2015, "month": 2, "date": 7}, {"year": 2022, "month": 2, "date": 26}]},
        "axis": {"orient": "bottom", "grid": true, "tickCount": {"interval": "month", "step": 3},
                 "gridColor": {"condition": {"test": "month(datum.value) == 0", "value": "#bbb"}, "value": "#dcdcdc"},
                 "labelExpr": "month(datum.value) == 0 ? timeFormat(datum.value, '%y') : timeFormat(datum.value, '%b')",
                 "labelFontWeight": {"condition": {"test": "month(datum.value) == 0", "value": "bold"}, "value": "normal"},
                 "labelPadding": 2, "labelFlush": false, "labelOverlap": false, "labelBound": false, "labelBaseline": "top", "title": null}},
  "y": {"field": "hist", "type": "quantitative", "scale": {"domain": [-0.02094, 0.01553], "nice": false, "zero": false},
        "axis": {"orient": "right", "values": [-0.02, -0.015, -0.01, -0.005, 0, 0.005, 0.01], "labelExpr": "(datum.value == 0 || datum.value == -0.005) ? '' : replace(format(datum.value, '.3f'), '\u2212', '-')", "grid": true, "labelPadding": 3, "title": null}}
 }},
{"data": {"name": "px"}, "mark": {"type": "line", "stroke": "#aaaaaa", "strokeWidth": 4.5, "opacity": 0.8}, "encoding": {"x": {"field": "d", "type": "temporal"}, "y": {"field": "macd", "type": "quantitative"}}},
{"data": {"name": "px"}, "mark": {"type": "line", "stroke": "#e00000", "strokeWidth": 1.2}, "encoding": {"x": {"field": "d", "type": "temporal"}, "y": {"field": "sig", "type": "quantitative"}}},
{"data": {"name": "px"}, "mark": {"type": "line", "stroke": "#000", "strokeWidth": 1.8}, "encoding": {"x": {"field": "d", "type": "temporal"}, "y": {"field": "macd", "type": "quantitative"}}},
{"data": {"values": [{"t": "━ MACD(12,26,9) -0.003"}]}, "mark": {"type": "text", "align": "left", "baseline": "middle", "dx": 4, "font": "DejaVu Sans Mono", "fontSize": 10, "fill": "#000"},
 "encoding": {"x": {"datum": {"year": 2015, "month": 2, "date": 7}, "type": "temporal"}, "y": {"datum": 0.0129, "type": "quantitative"}, "text": {"field": "t"}}},
{"data": {"values": [{"t": ", -0.004"}]}, "mark": {"type": "text", "align": "left", "baseline": "middle", "dx": 136, "font": "DejaVu Sans Mono", "fontSize": 10, "fill": "#e00000"},
 "encoding": {"x": {"datum": {"year": 2015, "month": 2, "date": 7}, "type": "temporal"}, "y": {"datum": 0.0129, "type": "quantitative"}, "text": {"field": "t"}}},
{"data": {"values": [{"t": ", 0.001"}]}, "mark": {"type": "text", "align": "left", "baseline": "middle", "dx": 184, "font": "DejaVu Sans Mono", "fontSize": 10, "fill": "#2a8fc0"},
 "encoding": {"x": {"datum": {"year": 2015, "month": 2, "date": 7}, "type": "temporal"}, "y": {"datum": 0.0129, "type": "quantitative"}, "text": {"field": "t"}}},
{"data": {"values": [{"k": "hist", "v": 0.001}, {"k": "macd", "v": -0.003}]},
 "mark": {"type": "point", "shape": "M 3 0 L 8 -7 L 37 -7 L 37 7 L 8 7 Z", "size": 4, "filled": true, "fill": "white", "strokeWidth": 1.2, "opacity": 1, "clip": false},
 "encoding": {"x": {"datum": {"year": 2022, "month": 2, "date": 15}, "type": "temporal"}, "y": {"field": "v", "type": "quantitative"},
   "stroke": {"condition": {"test": "datum.k == 'hist'", "value": "#8c8cd0"}, "value": "#000"}}},
{"data": {"values": [{"t": "0.001", "v": 0.001}, {"t": "-0.003", "v": -0.003}]},
 "mark": {"type": "text", "align": "left", "baseline": "middle", "dx": 9, "fontSize": 11, "font": "Liberation Sans", "fill": "#000", "clip": false},
 "encoding": {"x": {"datum": {"year": 2022, "month": 2, "date": 15}, "type": "temporal"}, "y": {"field": "v", "type": "quantitative"}, "text": {"field": "t"}}}
]
}
],
"spacing": 1,
"resolve": {"scale": {"color": "independent"}, "legend": {"color": "independent"}}
}
